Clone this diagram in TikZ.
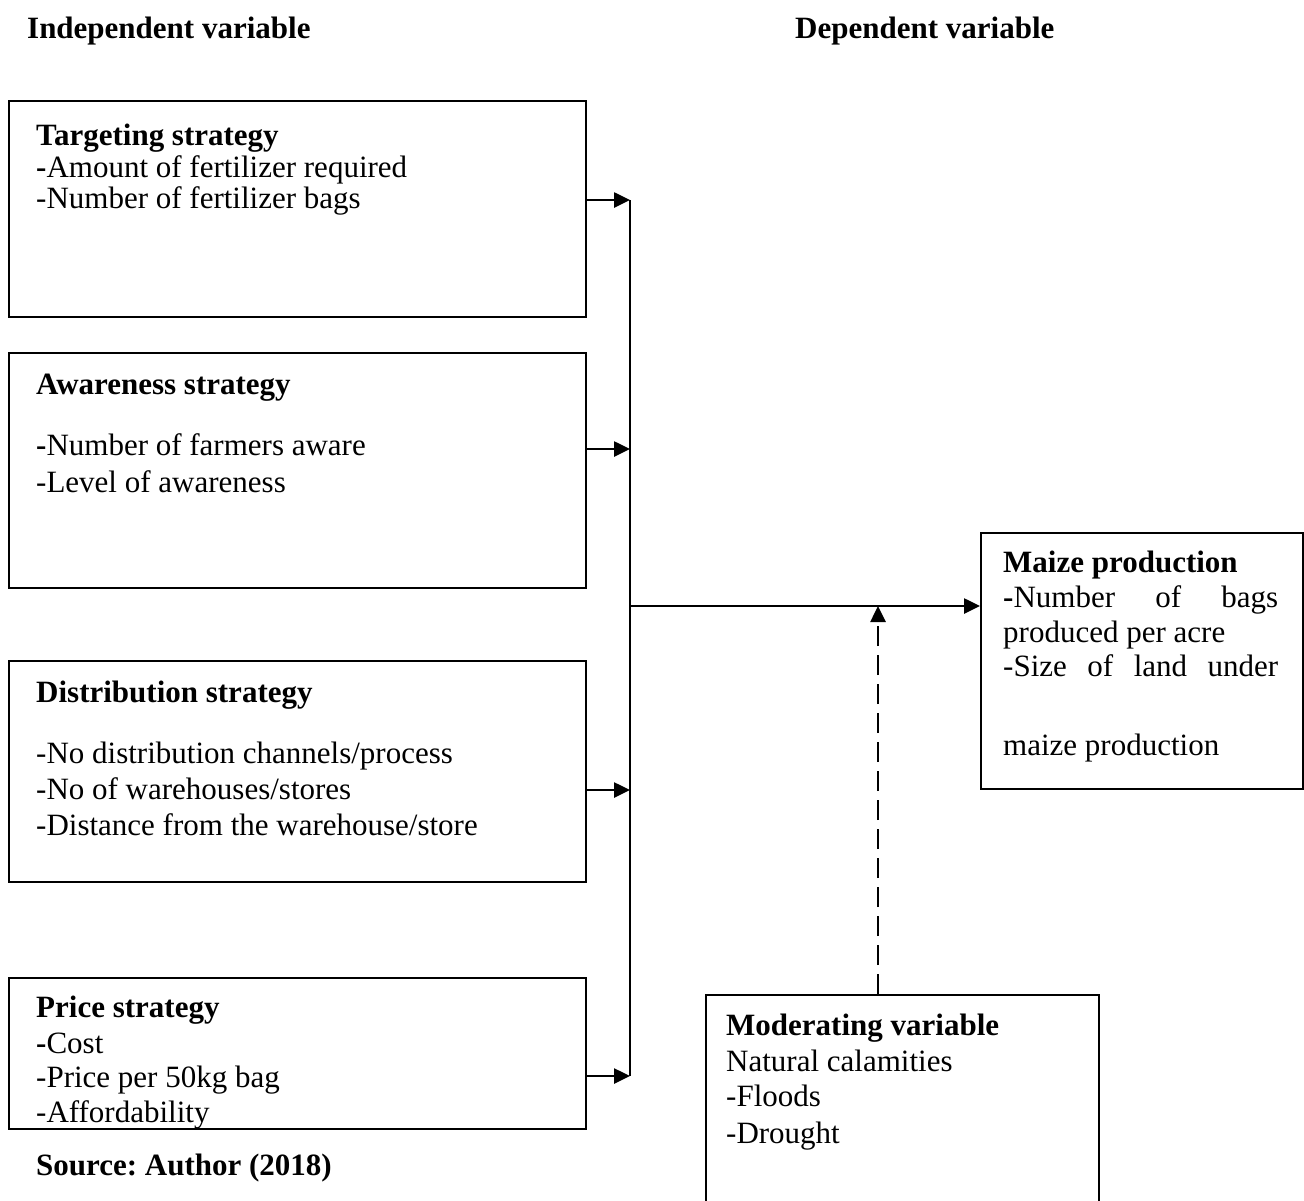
\documentclass[tikz,border=0pt]{standalone}
\usepackage{fontspec}
\setmainfont{Liberation Serif}
\usetikzlibrary{arrows.meta}
\frenchspacing
\begin{document}
\begin{tikzpicture}[x=1pt,y=-1pt,
  box/.style={draw, line width=1.8pt, rectangle, inner sep=0pt, anchor=north west},
  txt/.style={anchor=base west, inner sep=0pt, font=\fontsize{31}{35}\selectfont},
  hd/.style={txt, font=\fontsize{31}{35}\selectfont\bfseries},
  conn/.style={line width=2.6pt},
  arr/.style={line width=2.6pt, -{Triangle[length=16pt,width=15pt]}},
  dsh/.style={arr, dash pattern=on 20pt off 9pt}]
\useasboundingbox (0,0) rectangle (1304,1200);
\clip (0,0) rectangle (1304,1200);

% headings
\node[hd] (hind) at (27,38) {Independent variable};
\node[hd] (hdep) at (795,38) {Dependent variable};

% boxes
\node[box, minimum width=577pt, minimum height=216pt] (tb) at (8,100) {};
\node[box, minimum width=577pt, minimum height=235pt] (ab) at (8,352) {};
\node[box, minimum width=577pt, minimum height=221pt] (db) at (8,660) {};
\node[box, minimum width=577pt, minimum height=151pt] (pb) at (8,977) {};
\node[box, minimum width=322pt, minimum height=256pt] (mz) at (980,532) {};
\node[box, minimum width=393pt, minimum height=240pt] (md) at (705,994) {};

% targeting
\node[hd] (t0) at (36,145) {Targeting strategy};
\node[txt] (t1) at (36,177) {\textbf{-}Amount of fertilizer required};
\node[txt] (t2) at (36,208) {-Number of fertilizer bags};
% awareness
\node[hd] (a0) at (36,394) {Awareness strategy};
\node[txt] (a1) at (36,455) {\textbf{-}Number of farmers aware};
\node[txt] (a2) at (36,492) {-Level of awareness};
% distribution
\node[hd] (d0) at (36,702) {Distribution strategy};
\node[txt] (d1) at (36,763) {-No distribution channels/process};
\node[txt] (d2) at (36,799) {-No of warehouses/stores};
\node[txt] (d3) at (36,835) {-Distance from the warehouse/store};
% price
\node[hd] (p0) at (36,1017) {Price strategy};
\node[txt] (p1) at (36,1053) {\textbf{-}Cost};
\node[txt] (p2) at (36,1087) {-Price per 50kg bag};
\node[txt] (p3) at (36,1122) {-Affordability};
\node[hd] (src) at (36,1175) {Source: Author (2018)};
% maize
\node[hd] (m0) at (1003,572) {Maize production};
\node[txt] (m1) at (1003,607) {\hbox to 275pt{\textbf{-}Number\hfill of\hfill bags}};
\node[txt] (m2) at (1003,642) {produced per acre};
\node[txt] (m3) at (1003,676) {\hbox to 275pt{-Size\hfill of\hfill land\hfill under}};
\node[txt] (m4) at (1003,755) {maize production};
% moderating
\node[hd] (o0) at (726,1035) {Moderating variable};
\node[txt] (o1) at (726,1071) {Natural calamities};
\node[txt] (o2) at (726,1106) {-Floods};
\node[txt] (o3) at (726,1143) {-Drought};

% connectors
\coordinate (j1) at (630,200);
\coordinate (j2) at (630,449);
\coordinate (j3) at (630,790);
\coordinate (j4) at (630,1076);
\coordinate (jm) at (630,606);
\coordinate (dx) at (878,606);
\draw[conn] (j1) -- (j4);
\draw[arr] (tb.east |- j1) -- (j1);
\draw[arr] (ab.east |- j2) -- (j2);
\draw[arr] (db.east |- j3) -- (j3);
\draw[arr] (pb.east |- j4) -- (j4);
\draw[arr] (jm) -- (mz.west |- jm);
\draw[dsh] (md.north -| dx) -- (dx);
\end{tikzpicture}
\end{document}
